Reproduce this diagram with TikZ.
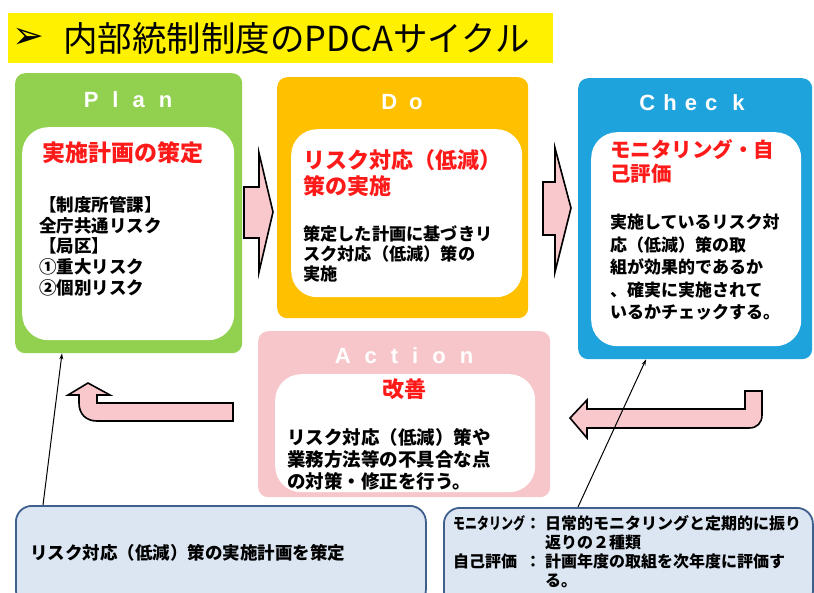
\documentclass[tikz,border=0pt]{standalone}
\usepackage{fontspec}
\usepackage{graphicx}
\setmainfont{Liberation Sans}
\newfontfamily\jp{Noto Sans CJK JP}
\newfontfamily\dv{DejaVu Sans}
\usetikzlibrary{arrows.meta}
\definecolor{plangreen}{HTML}{92D050}
\definecolor{dogold}{HTML}{FFC000}
\definecolor{checkblue}{HTML}{1FA3DD}
\definecolor{actpink}{HTML}{F7C6CA}
\definecolor{arrowpink}{HTML}{F8C8CC}
\definecolor{titleyellow}{HTML}{FFF100}
\definecolor{notefill}{HTML}{DCE6F2}
\definecolor{noteline}{HTML}{3F5F8C}
\definecolor{redtxt}{HTML}{FF1A1A}
\newcommand\fsz[2]{\fontsize{#1}{#2}\selectfont}
\begin{document}
\begin{tikzpicture}[x=1pt,y=-1pt,
  phasebox/.style={draw=none, rounded corners=10pt, anchor=north west, inner sep=0pt},
  innerbox/.style={fill=white, draw=none, rounded corners=26pt, anchor=north west, inner sep=0pt},
  phasehead/.style={text=white, font=\bfseries\fsz{22}{24}, inner sep=0pt},
  redtitle/.style={text=redtxt, inner sep=0pt, anchor=north west, align=left},
  bodytext/.style={text=black, inner sep=0pt, anchor=north west, align=left},
  blockarrow/.style={fill=arrowpink, draw=black, line width=1.6pt, line join=miter},
  notebox/.style={fill=notefill, draw=noteline, line width=1.8pt, rounded corners=16pt, anchor=north west, inner sep=0pt},
  callout/.style={draw=black, line width=1pt, -{Stealth[length=6pt,width=4pt]}}
]
\useasboundingbox (0,0) rectangle (814,592);
\clip (0,0) rectangle (814,592);

% title
\node[fill=titleyellow, anchor=north west, minimum width=545pt, minimum height=50pt, inner sep=0pt] (titlebar) at (8,13) {};
\node[anchor=west, inner sep=0pt, font=\dv\fsz{38}{40}] (titlemark) at (12,38) {➢};
\node[anchor=west, inner sep=0pt, font=\jp\fsz{34.5}{38}] (titletext) at (63,38) {内部統制制度のPDCAサイクル};

% Plan
\node[phasebox, fill=plangreen, minimum width=227pt, minimum height=280pt] (plan) at (15,73) {};
\node[innerbox, minimum width=212pt, minimum height=213pt] (planin) at (22,127) {};
\node[phasehead] (planhead) at (128,100) {P\kern14pt l\kern14pt a\kern14pt n};
\node[redtitle, anchor=west, font=\jp\bfseries\fsz{23}{26}] (plantitle) at (42,153) {実施計画の策定};
\node[bodytext, font=\jp\bfseries\fsz{17.5}{20.7}] (planbody) at (39,196) {【制度所管課】\\全庁共通リスク\\【局区】\\①重大リスク\\②個別リスク};

% Do
\node[phasebox, fill=dogold, minimum width=251pt, minimum height=241pt] (do) at (277,77) {};
\node[innerbox, minimum width=231pt, minimum height=168pt] (doin) at (291,129) {};
\node[phasehead] (dohead) at (402,102) {D\kern12pt o};
\node[redtitle, font=\jp\bfseries\fsz{22}{26}] (dotitle) at (303,149) {リスク対応（低減）\\策の実施};
\node[bodytext, font=\jp\bfseries\fsz{17.2}{20}] (dobody) at (303,225) {策定した計画に基づきリ\\スク対応（低減）策の\\実施};

% Check
\node[phasebox, fill=checkblue, minimum width=234pt, minimum height=281pt] (check) at (578,78) {};
\node[innerbox, minimum width=210pt, minimum height=214pt] (checkin) at (591,132) {};
\node[phasehead] (checkhead) at (692,103) {C\kern8pt h\kern8pt e\kern8pt c\kern15pt k};
\node[redtitle, font=\jp\bfseries\fsz{20.5}{24}] (checktitle) at (610,139) {モニタリング・自\\己評価};
\node[bodytext, font=\jp\bfseries\fsz{17}{22.5}] (checkbody) at (610,214) {実施しているリスク対\\応（低減）策の取\\組が効果的であるか\\、確実に実施されて\\いるかチェックする。};

% Action
\node[phasebox, fill=actpink, minimum width=292pt, minimum height=166pt] (action) at (258,331) {};
\node[innerbox, minimum width=260pt, minimum height=118pt] (actionin) at (275,374) {};
\node[phasehead] (actionhead) at (404,356) {A\kern14pt c\kern14pt t\kern14pt i\kern14pt o\kern14pt n};
\node[redtitle, anchor=center, font=\jp\bfseries\fsz{22}{24}] (actiontitle) at (404,389) {改善};
\node[bodytext, font=\jp\bfseries\fsz{18.5}{22}] (actionbody) at (287,428.5) {リスク対応（低減）策や\\業務方法等の不具合な点\\の対策・修正を行う。};

% block arrows
\draw[blockarrow] (244,187) -- (259,187) -- (259,153) -- (273,212) -- (259,272) -- (259,238) -- (244,238) -- cycle;
\draw[blockarrow] (543,182) -- (555,182) -- (555,148) -- (571,208) -- (555,272) -- (555,235) -- (543,235) -- cycle;
\draw[blockarrow] (570,418) -- (587,400) -- (587,409) -- (745,409) -- (745,391) -- (762,391) -- (762,415)
  .. controls (762,423) and (757,428) .. (749,428) -- (587,428) -- (587,438) -- cycle;
\draw[blockarrow] (88,383) -- (110,395) -- (97,395) -- (97,403) -- (233,403) -- (233,421) -- (97,421)
  .. controls (86,421) and (79,414) .. (79,403) -- (79,395) -- (68,395) -- cycle;

% notes
\node[notebox, minimum width=410pt, minimum height=100pt] (noteplan) at (15,505) {};
\node[anchor=west, inner sep=0pt, font=\jp\bfseries\fsz{17.5}{20}] (noteplantext) at (30,553) {リスク対応（低減）策の実施計画を策定};
\node[notebox, minimum width=369pt, minimum height=100pt] (notecheck) at (443,507) {};
\node[anchor=north west, inner sep=0pt, font=\jp\bfseries\fsz{16}{18.7}] (notechecktext) at (453,515) {%
\begin{tabular}{@{}l@{}l@{\hspace{4pt}}l@{}}
\makebox[72pt][l]{\scalebox{0.75}[1]{モニタリング}} & ： & 日常的モニタリングと定期的に振り\\
 & & 返りの２種類\\
\makebox[72pt][l]{自己評価} & ： & 計画年度の取組を次年度に評価す\\
 & & る。
\end{tabular}};

% callouts
\draw[callout] ([xshift=28pt]noteplan.north west) -- ([xshift=47pt]plan.south west);
\draw[callout] ([xshift=135pt]notecheck.north west) -- ([xshift=68pt]check.south west);
\end{tikzpicture}
\end{document}
